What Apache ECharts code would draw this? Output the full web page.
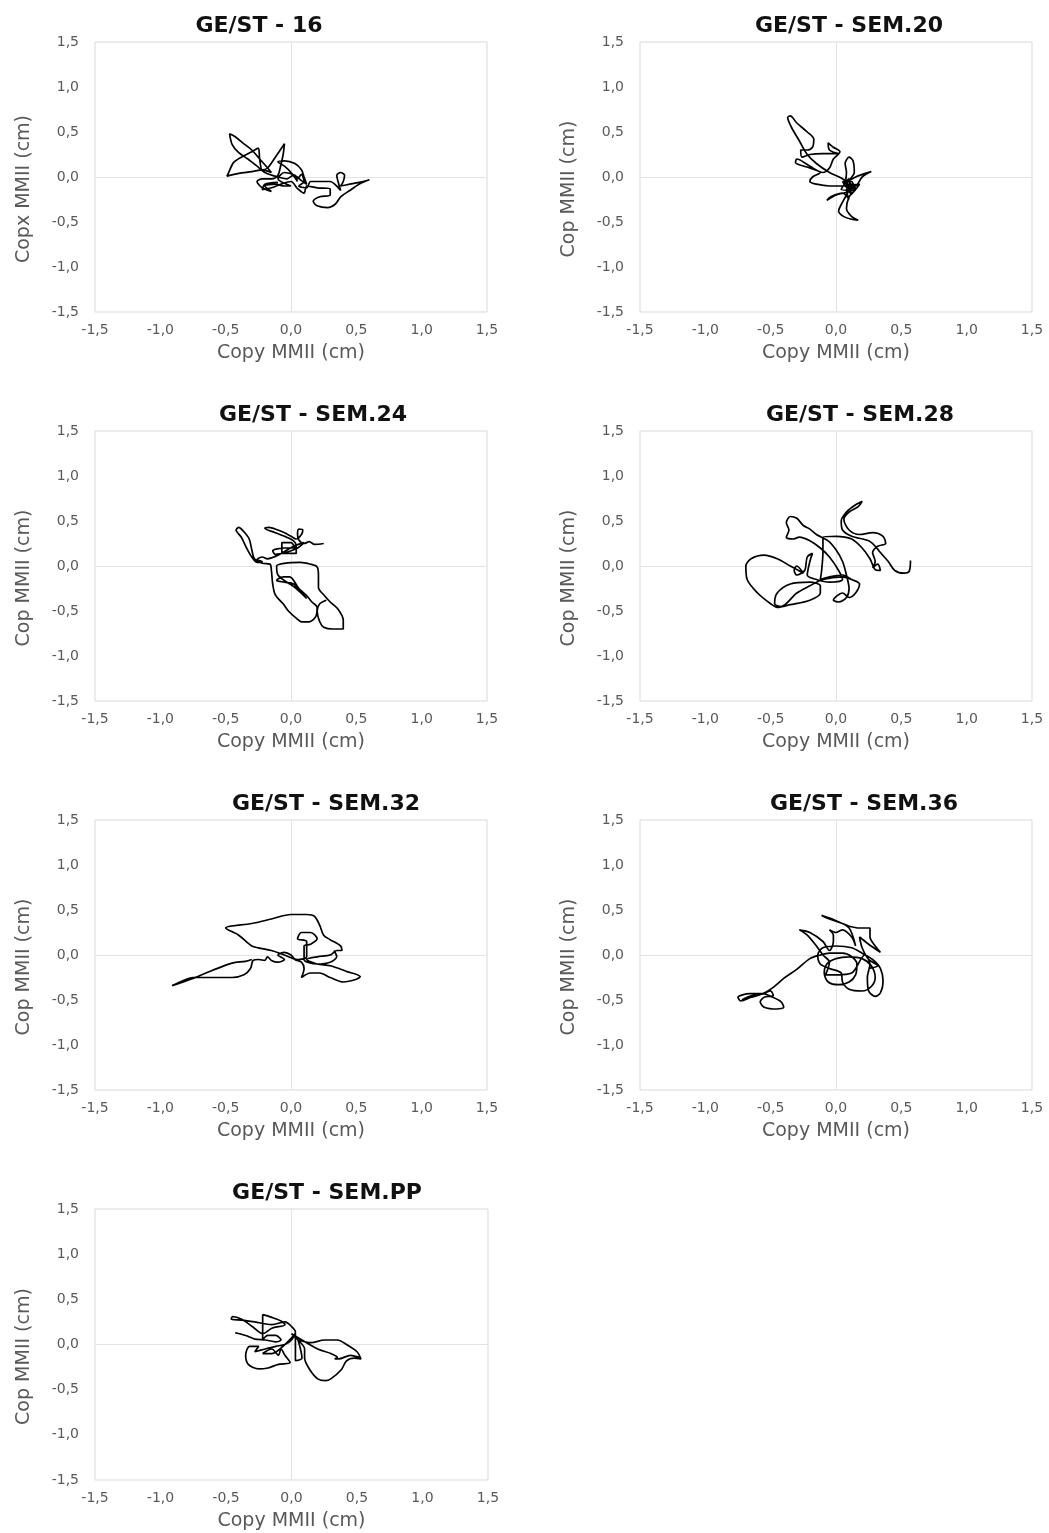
<!DOCTYPE html>
<html>
<head>
<meta charset="utf-8">
<script src="https://cdn.jsdelivr.net/npm/echarts@6/dist/echarts.min.js"></script>
<style>
html,body{margin:0;padding:0;background:#fff;}
#chart{width:1049px;height:1533px;}
</style>
</head>
<body>
<div id="chart"></div>
<script>
// ---------- DATA ----------
const panelTitles = ['GE/ST - 16', 'GE/ST - SEM.20', 'GE/ST - SEM.24', 'GE/ST - SEM.28', 'GE/ST - SEM.32', 'GE/ST - SEM.36', 'GE/ST - SEM.PP'];
const xAxisNames = ['Copy MMII (cm)', 'Copy MMII (cm)', 'Copy MMII (cm)', 'Copy MMII (cm)', 'Copy MMII (cm)', 'Copy MMII (cm)', 'Copy MMII (cm)'];
const yAxisNames = ['Copx MMII (cm)', 'Cop MMII (cm)', 'Cop MMII (cm)', 'Cop MMII (cm)', 'Cop MMII (cm)', 'Cop MMII (cm)', 'Cop MMII (cm)'];
const tickValues = [-1.5, -1.0, -0.5, 0.0, 0.5, 1.0, 1.5];
const tickLabels = ['-1,5', '-1,0', '-0,5', '0,0', '0,5', '1,0', '1,5'];

const pathSem16 = [[0.05,-0.05],[0.0,0.05],[-0.05,0.12],[-0.1,0.17],[-0.05,0.18],[0.03,0.15],[0.08,0.08],[0.1,0.0],[0.12,-0.08],[0.08,-0.04],[0.02,0.02],[-0.03,-0.02],[-0.1,0.0],[-0.2,0.05],[-0.26,0.12],[-0.33,0.2],[-0.4,0.27],[-0.45,0.36],[-0.47,0.48],[-0.43,0.45],[-0.37,0.38],[-0.3,0.3],[-0.24,0.2],[-0.19,0.12],[-0.15,0.05],[-0.22,0.08],[-0.3,0.06],[-0.4,0.04],[-0.49,0.01],[-0.48,0.04],[-0.44,0.16],[-0.38,0.22],[-0.3,0.28],[-0.25,0.32],[-0.24,0.2],[-0.22,0.08],[-0.18,0.1],[-0.12,0.22],[-0.05,0.37],[-0.06,0.25],[-0.08,0.12],[-0.1,0.02],[-0.15,-0.02],[-0.22,-0.02],[-0.26,-0.05],[-0.22,-0.12],[-0.15,-0.16],[-0.2,-0.1],[-0.12,-0.08],[-0.05,-0.1],[0.0,-0.1],[-0.1,-0.02],[-0.05,0.05],[0.03,0.02],[0.05,-0.02],[0.08,0.03],[0.1,-0.05],[0.06,-0.1],[0.12,-0.12],[0.15,-0.05],[0.25,-0.05],[0.3,-0.05],[0.35,-0.1],[0.38,-0.15],[0.36,-0.05],[0.35,0.02],[0.38,0.05],[0.41,0.02],[0.4,-0.05],[0.38,-0.1],[0.45,-0.08],[0.52,-0.06],[0.6,-0.03],[0.52,-0.08],[0.45,-0.15],[0.38,-0.22],[0.34,-0.3],[0.28,-0.34],[0.2,-0.32],[0.17,-0.27],[0.22,-0.22],[0.3,-0.2],[0.3,-0.13],[0.2,-0.12],[0.12,-0.1],[0.1,-0.18],[0.05,-0.13],[0.0,-0.05],[-0.08,-0.08],[-0.15,-0.12],[-0.22,-0.14],[-0.2,-0.08],[-0.1,-0.06]];

const pathSem20 = [[0.1,-0.1],[0.05,-0.02],[-0.05,0.05],[-0.15,0.15],[-0.22,0.25],[-0.28,0.4],[-0.34,0.55],[-0.37,0.66],[-0.35,0.68],[-0.3,0.6],[-0.22,0.5],[-0.17,0.42],[-0.18,0.33],[-0.22,0.3],[-0.27,0.3],[-0.26,0.22],[-0.2,0.25],[-0.1,0.26],[0.02,0.26],[-0.05,0.3],[-0.06,0.38],[-0.02,0.33],[0.03,0.28],[-0.02,0.2],[-0.05,0.1],[-0.1,0.05],[-0.2,0.12],[-0.3,0.2],[-0.31,0.16],[-0.2,0.1],[-0.12,0.05],[-0.18,0.0],[-0.2,-0.05],[-0.15,-0.08],[-0.05,-0.1],[0.05,-0.1],[0.08,0.05],[0.07,0.15],[0.1,0.22],[0.13,0.18],[0.14,0.05],[0.1,-0.05],[0.15,-0.1],[0.2,0.0],[0.27,0.06],[0.15,0.0],[0.08,-0.08],[0.12,-0.15],[0.05,-0.18],[0.0,-0.2],[-0.07,-0.26],[-0.04,-0.22],[0.05,-0.18],[0.1,-0.25],[0.08,-0.15],[0.12,-0.1],[0.05,-0.28],[0.02,-0.38],[0.06,-0.44],[0.12,-0.47],[0.17,-0.48],[0.12,-0.44],[0.08,-0.35],[0.1,-0.22],[0.14,-0.15],[0.12,-0.05],[0.08,-0.12],[0.15,-0.12],[0.05,-0.05],[0.12,-0.2],[0.08,-0.08],[0.15,-0.15],[0.04,-0.14],[0.1,-0.02],[0.12,-0.18],[0.18,-0.08],[0.06,-0.1]];

const pathSem24 = [[0.25,0.25],[0.18,0.24],[0.14,0.27],[0.1,0.25],[0.06,0.29],[0.05,0.35],[0.06,0.41],[0.09,0.4],[0.08,0.35],[0.04,0.3],[0.0,0.33],[-0.05,0.37],[-0.1,0.4],[-0.17,0.43],[-0.2,0.42],[-0.12,0.37],[-0.05,0.33],[0.02,0.28],[0.04,0.22],[0.04,0.14],[0.0,0.14],[-0.07,0.14],[-0.07,0.26],[0.0,0.26],[0.03,0.2],[-0.05,0.2],[-0.14,0.17],[-0.12,0.13],[-0.04,0.15],[0.05,0.2],[0.1,0.26],[0.02,0.22],[-0.1,0.12],[-0.18,0.08],[-0.22,0.1],[-0.26,0.07],[-0.22,0.05],[-0.26,0.04],[-0.3,0.1],[-0.34,0.2],[-0.38,0.32],[-0.42,0.4],[-0.4,0.43],[-0.36,0.38],[-0.32,0.3],[-0.3,0.18],[-0.28,0.08],[-0.22,0.03],[-0.16,0.02],[-0.15,-0.05],[-0.14,-0.2],[-0.12,-0.32],[-0.06,-0.42],[-0.02,-0.5],[0.04,-0.58],[0.08,-0.62],[0.14,-0.62],[0.19,-0.56],[0.2,-0.46],[0.16,-0.4],[0.12,-0.33],[0.06,-0.25],[-0.01,-0.12],[-0.06,-0.12],[-0.11,-0.16],[-0.05,-0.18],[0.02,-0.2],[0.08,-0.3],[0.12,-0.36],[0.04,-0.25],[-0.1,-0.1],[-0.11,0.0],[-0.05,0.03],[0.07,0.04],[0.15,0.02],[0.2,-0.01],[0.21,-0.1],[0.21,-0.24],[0.25,-0.32],[0.3,-0.4],[0.36,-0.48],[0.4,-0.6],[0.4,-0.7],[0.32,-0.7],[0.25,-0.68],[0.22,-0.62],[0.2,-0.5],[0.22,-0.42],[0.27,-0.38]];

const pathSem28 = [[0.57,0.06],[0.56,-0.06],[0.52,-0.08],[0.45,-0.05],[0.4,0.05],[0.34,0.15],[0.3,0.22],[0.25,0.28],[0.12,0.33],[0.05,0.4],[0.04,0.5],[0.08,0.6],[0.15,0.68],[0.2,0.72],[0.17,0.66],[0.1,0.6],[0.06,0.52],[0.1,0.4],[0.18,0.35],[0.28,0.37],[0.36,0.33],[0.38,0.25],[0.32,0.22],[0.28,0.15],[0.3,0.05],[0.28,-0.02],[0.32,0.02],[0.34,-0.05],[0.3,-0.04],[0.26,0.08],[0.2,0.2],[0.12,0.3],[0.0,0.33],[-0.1,0.32],[-0.1,0.15],[-0.11,-0.05],[-0.12,-0.15],[-0.05,-0.12],[0.05,-0.1],[0.12,-0.15],[0.18,-0.2],[0.15,-0.3],[0.1,-0.35],[0.05,-0.3],[-0.02,-0.38],[0.02,-0.4],[0.08,-0.35],[0.1,-0.25],[0.08,-0.1],[0.05,0.05],[0.0,0.18],[-0.06,0.28],[-0.15,0.35],[-0.2,0.41],[-0.25,0.45],[-0.3,0.53],[-0.35,0.55],[-0.38,0.48],[-0.36,0.4],[-0.38,0.32],[-0.33,0.3],[-0.28,0.32],[-0.2,0.28],[-0.12,0.2],[-0.05,0.1],[0.02,-0.05],[0.05,-0.15],[-0.05,-0.18],[-0.15,-0.15],[-0.22,-0.1],[-0.2,0.05],[-0.18,0.14],[-0.22,0.1],[-0.24,-0.05],[-0.3,-0.1],[-0.32,-0.05],[-0.3,0.0],[-0.25,-0.08],[-0.35,0.0],[-0.45,0.08],[-0.55,0.12],[-0.65,0.08],[-0.69,0.0],[-0.68,-0.15],[-0.6,-0.3],[-0.5,-0.42],[-0.45,-0.46],[-0.35,-0.43],[-0.2,-0.38],[-0.12,-0.3],[-0.12,-0.22],[-0.2,-0.18],[-0.35,-0.2],[-0.45,-0.3],[-0.47,-0.42],[-0.42,-0.45],[-0.3,-0.3],[-0.2,-0.22],[-0.1,-0.15],[0.05,-0.12],[0.12,-0.15]];

const pathSem32 = [[-0.3,-0.05],[-0.35,-0.07],[-0.45,-0.09],[-0.6,-0.17],[-0.75,-0.26],[-0.91,-0.34],[-0.85,-0.3],[-0.75,-0.25],[-0.6,-0.25],[-0.45,-0.25],[-0.36,-0.22],[-0.31,-0.15],[-0.29,-0.06],[-0.25,-0.05],[-0.2,-0.06],[-0.18,-0.02],[-0.15,-0.06],[-0.1,-0.08],[-0.05,-0.05],[-0.1,0.0],[-0.05,0.03],[0.0,0.0],[0.03,-0.05],[0.08,-0.08],[0.1,-0.15],[0.08,-0.25],[0.15,-0.2],[0.22,-0.2],[0.3,-0.25],[0.4,-0.3],[0.5,-0.27],[0.53,-0.24],[0.42,-0.18],[0.3,-0.12],[0.2,-0.1],[0.12,-0.05],[0.2,-0.02],[0.3,0.0],[0.35,0.05],[0.39,0.05],[0.38,0.1],[0.3,0.17],[0.25,0.22],[0.22,0.33],[0.18,0.43],[0.12,0.45],[0.0,0.45],[-0.15,0.4],[-0.3,0.35],[-0.5,0.3],[-0.4,0.22],[-0.3,0.1],[-0.25,0.08],[-0.15,0.05],[-0.05,0.0],[0.05,-0.05],[0.12,-0.02],[0.12,0.15],[0.05,0.18],[0.08,0.25],[0.15,0.25],[0.2,0.18],[0.15,0.12],[0.1,0.1],[0.1,-0.05],[0.2,-0.1],[0.3,-0.08],[0.35,-0.02],[0.33,0.05]];

const pathSem36 = [[-0.72,-0.5],[-0.66,-0.46],[-0.6,-0.44],[-0.56,-0.43],[-0.5,-0.4],[-0.48,-0.45],[-0.55,-0.47],[-0.58,-0.52],[-0.55,-0.58],[-0.45,-0.6],[-0.4,-0.58],[-0.42,-0.52],[-0.5,-0.46],[-0.56,-0.43],[-0.66,-0.43],[-0.75,-0.47],[-0.73,-0.51],[-0.65,-0.47],[-0.56,-0.43],[-0.48,-0.36],[-0.4,-0.26],[-0.3,-0.16],[-0.2,-0.04],[-0.12,0.0],[-0.05,0.02],[0.05,0.02],[0.12,-0.02],[0.16,-0.1],[0.15,-0.22],[0.1,-0.3],[0.02,-0.33],[-0.06,-0.3],[-0.09,-0.2],[-0.07,-0.1],[0.0,-0.04],[0.1,-0.02],[0.2,-0.04],[0.27,-0.12],[0.3,-0.25],[0.27,-0.35],[0.2,-0.4],[0.1,-0.38],[0.05,-0.3],[0.04,-0.2],[-0.05,-0.15],[-0.12,-0.1],[-0.14,0.0],[-0.1,0.08],[0.0,0.1],[0.12,0.08],[0.2,0.02],[0.28,-0.05],[0.34,-0.15],[0.36,-0.3],[0.34,-0.42],[0.3,-0.46],[0.25,-0.4],[0.24,-0.25],[0.26,-0.1],[0.22,0.0],[0.12,-0.2],[0.0,-0.22],[-0.08,-0.22],[-0.05,-0.08],[-0.1,0.0],[-0.15,0.1],[-0.22,0.22],[-0.28,0.28],[-0.2,0.25],[-0.1,0.15],[-0.05,0.05],[-0.02,0.15],[-0.02,0.22],[-0.05,0.28],[0.0,0.25],[0.05,0.28],[0.12,0.2],[0.15,0.1],[0.1,0.3],[0.0,0.38],[-0.11,0.44],[-0.05,0.4],[0.05,0.35],[0.1,0.32],[0.18,0.3],[0.26,0.3],[0.26,0.2],[0.3,0.1],[0.34,0.03],[0.25,0.12],[0.18,0.2],[0.2,0.08],[0.25,-0.05],[0.32,-0.12],[0.25,-0.15]];

const pathSemPP = [[-0.43,0.13],[-0.35,0.1],[-0.28,0.06],[-0.2,0.05],[-0.12,0.03],[-0.08,0.05],[-0.12,0.1],[-0.18,0.1],[-0.22,0.05],[-0.22,0.33],[-0.15,0.3],[-0.08,0.26],[-0.05,0.22],[-0.15,0.18],[-0.22,0.12],[-0.3,0.2],[-0.38,0.28],[-0.45,0.31],[-0.46,0.28],[-0.38,0.27],[-0.28,0.25],[-0.15,0.22],[-0.05,0.25],[0.0,0.2],[0.03,0.14],[0.0,0.05],[-0.05,0.0],[-0.12,-0.02],[-0.2,-0.05],[-0.28,-0.08],[-0.25,-0.02],[-0.32,-0.02],[-0.35,-0.12],[-0.33,-0.22],[-0.25,-0.27],[-0.18,-0.26],[-0.1,-0.22],[-0.01,-0.2],[-0.05,-0.12],[-0.08,-0.05],[-0.1,-0.12],[-0.15,-0.05],[-0.22,-0.1],[-0.15,-0.1],[-0.05,0.0],[0.03,0.12],[0.03,-0.18],[0.08,-0.15],[0.05,0.05],[0.15,0.02],[0.25,0.05],[0.35,0.05],[0.42,0.0],[0.5,-0.08],[0.53,-0.16],[0.48,-0.15],[0.42,-0.18],[0.38,-0.28],[0.3,-0.38],[0.26,-0.4],[0.2,-0.38],[0.14,-0.28],[0.1,-0.15],[0.1,-0.05],[0.05,0.05],[0.0,0.12],[0.08,0.05],[0.2,-0.05],[0.3,-0.1],[0.35,-0.14],[0.33,-0.16],[0.36,-0.16],[0.45,-0.12],[0.53,-0.15]];

const panelPaths = [pathSem16, pathSem20, pathSem24, pathSem28, pathSem32, pathSem36, pathSemPP];

// ---------- LAYOUT ----------
const gridBoxes = [
  {left: 95, top: 42, width: 392, height: 270},
  {left: 640, top: 42, width: 392, height: 270},
  {left: 95, top: 431, width: 392, height: 270},
  {left: 640, top: 431, width: 392, height: 270},
  {left: 95, top: 820, width: 392, height: 270},
  {left: 640, top: 820, width: 392, height: 270},
  {left: 95, top: 1209, width: 393, height: 271}
];
const titleCenters = [254, 844, 308, 855, 321, 859, 322];

const FONT = 'DejaVu Sans';
const labelColor = '#595959';

function fmt(v) {
  const i = tickValues.findIndex(t => Math.abs(t - v) < 1e-6);
  return i >= 0 ? tickLabels[i] : '';
}

const option = {
  animation: false,
  backgroundColor: '#ffffff',
  title: [], grid: [], xAxis: [], yAxis: [], series: []
};

panelPaths.forEach((path, i) => {
  const g = gridBoxes[i];
  option.title.push({
    text: panelTitles[i],
    left: titleCenters[i],
    top: g.top - 32,
    textAlign: 'center',
    textStyle: {fontFamily: FONT, fontWeight: 'bold', fontSize: 22, color: '#111'}
  });
  option.grid.push({
    left: g.left, top: g.top, width: g.width, height: g.height,
    show: true, borderColor: '#d9d9d9', borderWidth: 1, backgroundColor: '#fff'
  });
  option.xAxis.push({
    type: 'value', gridIndex: i, min: -1.5, max: 1.5, interval: 0.5,
    name: xAxisNames[i], nameLocation: 'middle', nameGap: 32,
    nameTextStyle: {fontFamily: FONT, fontSize: 19, color: labelColor},
    axisLine: {show: false}, axisTick: {show: false}, splitLine: {show: false},
    axisLabel: {formatter: fmt, fontFamily: FONT, fontSize: 14, color: labelColor, margin: 11, showMinLabel: true, showMaxLabel: true}
  });
  option.yAxis.push({
    type: 'value', gridIndex: i, min: -1.5, max: 1.5, interval: 0.5,
    name: yAxisNames[i], nameLocation: 'middle', nameGap: 61,
    nameTextStyle: {fontFamily: FONT, fontSize: 19, color: labelColor, padding: [0, 24, 0, 0]},
    axisLine: {show: false}, axisTick: {show: false}, splitLine: {show: false},
    axisLabel: {formatter: fmt, fontFamily: FONT, fontSize: 14, color: labelColor, margin: 16}
  });
  option.series.push({
    type: 'line', xAxisIndex: i, yAxisIndex: i, data: [], z: 1, silent: true,
    markLine: {
      silent: true, symbol: 'none', animation: false, z: 1,
      label: {show: false},
      lineStyle: {color: '#e3e3e3', type: 'solid', width: 1},
      data: [{xAxis: 0}, {yAxis: 0}]
    }
  });
  option.series.push({
    type: 'line', xAxisIndex: i, yAxisIndex: i, z: 10,
    data: path, showSymbol: false, smooth: 0.3,
    lineStyle: {color: '#000', width: 1.7}
  });
});

const chart = echarts.init(document.getElementById('chart'), null, {renderer: 'canvas'});
chart.setOption(option);
</script>
</body>
</html>
